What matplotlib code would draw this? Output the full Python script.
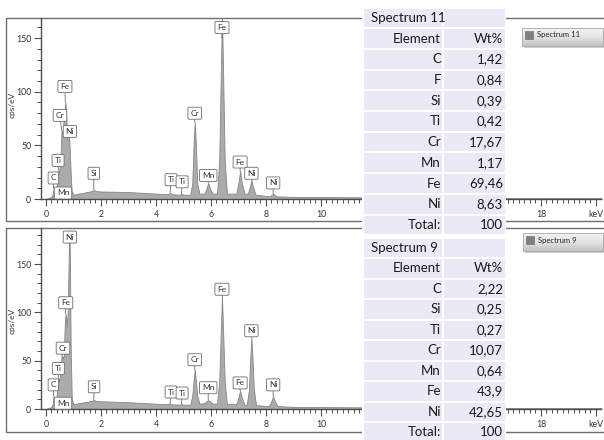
import matplotlib.pyplot as plt
import numpy as np
from matplotlib.patches import Rectangle
from matplotlib.colors import LinearSegmentedColormap

W, H = 604, 440

# ---- spectrum 11 (top) : keV / cps/eV
energy_11 = [0.00, 0.10, 0.20, 0.25, 0.28, 0.31, 0.36, 0.42, 0.45, 0.48, 0.53, 0.57, 0.61, 0.64,
             0.68, 0.71, 0.75, 0.79, 0.85, 0.89, 0.93, 1.00, 1.20, 1.50, 1.68, 1.74, 1.80, 2.00,
             3.00, 4.00, 4.45, 4.51, 4.57, 4.87, 4.93, 4.99, 5.25, 5.32, 5.37, 5.41, 5.45, 5.50,
             5.58, 5.76, 5.84, 5.90, 5.96, 6.06, 6.22, 6.30, 6.36, 6.40, 6.44, 6.50, 6.58, 6.92,
             7.00, 7.06, 7.12, 7.22, 7.34, 7.42, 7.47, 7.52, 7.62, 8.14, 8.26, 8.38, 9.00, 10.0,
             12.0, 15.0, 20.2]
counts_11 = [0, 1, 2, 5, 10, 5, 6, 18, 27, 24, 40, 64, 60, 75,
             85, 90, 70, 55, 55, 30, 8, 4, 5, 6.5, 7.5, 8.5, 7.5, 7,
             6.5, 5, 4.5, 5.8, 4.5, 4, 5.2, 4, 4, 15, 52, 72, 52, 15,
             5, 5, 10, 15, 10, 5, 5, 35, 120, 172, 120, 35, 5, 5,
             15, 26, 15, 5, 5, 12, 18, 12, 4, 2.5, 5, 2.5, 2, 1.8,
             1.5, 1, 0.8]

# ---- spectrum 9 (bottom)
energy_9 = [0.00, 0.10, 0.20, 0.25, 0.28, 0.31, 0.36, 0.42, 0.45, 0.48, 0.53, 0.57, 0.61, 0.65,
            0.68, 0.71, 0.75, 0.79, 0.83, 0.85, 0.87, 0.90, 0.94, 1.00, 1.20, 1.50, 1.68, 1.74,
            1.80, 2.00, 3.00, 4.00, 4.45, 4.51, 4.57, 4.87, 4.93, 4.99, 5.25, 5.32, 5.37, 5.41,
            5.45, 5.50, 5.58, 5.76, 5.84, 5.90, 5.96, 6.06, 6.22, 6.30, 6.36, 6.40, 6.44, 6.50,
            6.58, 6.92, 7.00, 7.06, 7.12, 7.22, 7.30, 7.38, 7.43, 7.47, 7.51, 7.56, 7.64, 8.10,
            8.18, 8.26, 8.34, 8.42, 9.00, 10.0, 12.0, 15.0, 20.2]
counts_9 = [0, 1, 2, 6, 14, 6, 7, 22, 32, 28, 40, 56, 52, 56,
            85, 99, 85, 100, 160, 185, 160, 60, 10, 5, 6, 7.5, 8.5, 9.5,
            8.5, 8, 7, 5.5, 5, 6, 4.8, 4.5, 5.5, 4.5, 4.5, 14, 30, 41,
            30, 14, 5.5, 6, 8, 9, 8, 5.5, 5.5, 28, 82, 117, 82, 28,
            5, 5, 12, 19, 12, 4, 4, 20, 53, 74, 53, 20, 4, 3,
            7, 13, 7, 3, 2.2, 2, 1.6, 1.2, 1]

# ---- peak labels
names_11 = ['C', 'Ti', 'Cr', 'Mn', 'Ni', 'Fe', 'Si', 'Ti', 'Ti', 'Cr', 'Mn', 'Fe', 'Fe', 'Ni', 'Ni']
lab_x_11 = [0.27, 0.44, 0.51, 0.62, 0.87, 0.69, 1.74, 4.55, 4.95, 5.41, 5.90, 6.40, 7.06, 7.47, 8.26]
lab_y_11 = [19.6, 36, 78, 5.6, 63, 105, 24, 18, 16, 80, 22, 160, 34.5, 24, 15]
tip_x_11 = [0.277, 0.45, 0.57, 0.62, 0.85, 0.705, 1.74, 4.51, 4.93, 5.41, 5.90, 6.40, 7.06, 7.47, 8.26]
tip_y_11 = [10, 27, 64, 5.6, 55, 90, 8.5, 5.8, 5.2, 72, 15, 150, 26, 18, 5]

names_9 = ['C', 'Ti', 'Cr', 'Mn', 'Fe', 'Ni', 'Si', 'Ti', 'Ti', 'Cr', 'Mn', 'Fe', 'Fe', 'Ni', 'Ni']
lab_x_9 = [0.27, 0.45, 0.62, 0.62, 0.72, 0.87, 1.75, 4.55, 4.95, 5.41, 5.90, 6.40, 7.06, 7.47, 8.26]
lab_y_9 = [25, 42, 63, 6, 110, 178, 23, 17.6, 16.5, 51, 22, 124, 27, 81, 25]
tip_x_9 = [0.277, 0.45, 0.57, 0.62, 0.705, 0.85, 1.74, 4.51, 4.93, 5.41, 5.90, 6.40, 7.06, 7.47, 8.26]
tip_y_9 = [14, 32, 56, 6, 99, 170, 9.5, 6, 5.5, 41, 9, 117, 19, 74, 13]

# ---- result tables
elements_11 = ['C', 'F', 'Si', 'Ti', 'Cr', 'Mn', 'Fe', 'Ni']
wt_11 = ['1,42', '0,84', '0,39', '0,42', '17,67', '1,17', '69,46', '8,63']
elements_9 = ['C', 'Si', 'Ti', 'Cr', 'Mn', 'Fe', 'Ni']
wt_9 = ['2,22', '0,25', '0,27', '10,07', '0,64', '43,9', '42,65']
total_wt = '100'

# 12-16 keV sit behind the result tables, so they carry no label
x_ticks = [0, 2, 4, 6, 8, 10, 12, 14, 16, 18, 20]
x_tick_labels = ['0', '2', '4', '6', '8', '10', '', '', '', '18', 'keV']
y_ticks = [0, 50, 100, 150]

plt.rcParams['font.family'] = ['Lato', 'DejaVu Sans']


def px_rect(x0, y0, x1, y1):
    return [x0 / W, 1 - y1 / H, (x1 - x0) / W, (y1 - y0) / H]


fig = plt.figure(figsize=(W / 100, H / 100), dpi=100)

# background layer: panel frames
bg = fig.add_axes([0, 0, 1, 1], zorder=0)
bg.set_xlim(0, W)
bg.set_ylim(H, 0)
bg.axis('off')
for (t, b) in [(18, 221), (228, 432)]:
    bg.add_patch(Rectangle((6, t), 620, b - t, fill=False, edgecolor='#6e6e6e', lw=1))


def draw_spectrum(rect, ymax, energy, counts, names, lx, ly, tx, ty, ylab_y):
    ax = fig.add_axes(px_rect(*rect), zorder=1)
    ax.patch.set_alpha(0)
    ax.fill_between(energy, counts, 0, facecolor='#ababab', edgecolor='#858585', lw=0.6)
    ax.set_xlim(-0.18, 20.2)
    ax.set_ylim(0, ymax)
    for s in ['top', 'right']:
        ax.spines[s].set_visible(False)
    for s in ['left', 'bottom']:
        ax.spines[s].set_color('#4d4d4d')
        ax.spines[s].set_linewidth(1)
    ax.set_xticks(x_ticks)
    ax.set_xticklabels(x_tick_labels)
    ax.set_xticks(np.arange(0, 20.2, 0.2), minor=True)
    ax.set_yticks(y_ticks)
    ax.set_yticks(np.arange(0, ymax, 10), minor=True)
    ax.tick_params(which='major', length=5, width=0.8, color='#4d4d4d', labelsize=6.3,
                   labelcolor='#333333', pad=2)
    ax.tick_params(which='minor', length=3, width=0.7, color='#4d4d4d')
    ax.tick_params(axis='x', which='major', pad=3)
    for n, x, y, px_, py_ in zip(names, lx, ly, tx, ty):
        box = dict(boxstyle='round,pad=0.3,rounding_size=0.15', fc='white', ec='#6b6b6b', lw=0.6)
        if x == px_ and y == py_:
            ax.text(x, y, n, fontsize=6, color='#333333', ha='center', va='center', bbox=box,
                    zorder=4)
        else:
            ax.annotate(n, xy=(px_, py_), xytext=(x, y), fontsize=6, color='#333333',
                        ha='center', va='center', bbox=box, annotation_clip=False,
                        arrowprops=dict(arrowstyle='-', color='#6b6b6b', lw=0.6,
                                        shrinkA=0, shrinkB=0), zorder=4)
    fig.text(12 / W, 1 - ylab_y / H, 'cps/eV', rotation=90, fontsize=6, color='#333333',
             ha='center', va='center')
    return ax


draw_spectrum((41, 18, 601.5, 199), 168.8, energy_11, counts_11,
              names_11, lab_x_11, lab_y_11, tip_x_11, tip_y_11, 105)
draw_spectrum((41, 228, 601.5, 409), 187.4, energy_9, counts_9,
              names_9, lab_x_9, lab_y_9, tip_x_9, tip_y_9, 321)

# overlay layer: tables and spectrum buttons
ov = fig.add_axes([0, 0, 1, 1], zorder=5)
ov.patch.set_alpha(0)


def draw_table(top, row_h, title, elements, values):
    rows = [(title, ''), ('Element', 'Wt%')] + list(zip(elements, values)) + [('Total:', total_wt)]
    ov.add_patch(Rectangle((362, top), 144, row_h * len(rows), fc='white', ec='none'))
    for i, (a, b) in enumerate(rows):
        y0 = top + i * row_h
        ov.add_patch(Rectangle((364, y0 + 1), 78, row_h - 2, fc='#e8eaf5', ec='none'))
        ov.add_patch(Rectangle((444, y0 + 1), 61, row_h - 2, fc='#e8eaf5', ec='none'))
        yc = y0 + row_h / 2
        if i == 0:
            ov.text(371, yc, a, fontsize=9.5, color='#1a1a1a', ha='left', va='center')
        else:
            ov.text(441, yc, a, fontsize=9.5, color='#1a1a1a', ha='right', va='center')
        ov.text(503, yc, b, fontsize=9.5, color='#1a1a1a', ha='right', va='center')


grad = LinearSegmentedColormap.from_list('btn', ['#f4f4f4', '#e4e4e4', '#c2c2c2'])


def draw_button(x0, y0, x1, y1, label):
    ov.add_patch(Rectangle((x0 + 2, y0 + 2), x1 - x0, y1 - y0, fc='#9a9a9a', ec='none', alpha=0.5))
    ov.imshow(np.linspace(0, 1, 50).reshape(-1, 1), extent=(x0, x1, y1, y0), aspect='auto',
              cmap=grad, zorder=2)
    ov.add_patch(Rectangle((x0, y0), x1 - x0, y1 - y0, fill=False, ec='#a8a8a8', lw=0.6, zorder=3))
    ov.add_patch(Rectangle((x0 + 3, y0 + 3), 8, 8, fc='#7f7f7f', ec='#666666', lw=0.4, zorder=3))
    ov.text(x0 + 15, y0 + 7, label, fontsize=5.5, color='#222222', ha='left', va='center',
            zorder=4)


draw_table(7.6, 20.7, 'Spectrum 11', elements_11, wt_11)
draw_table(237.7, 20.5, 'Spectrum 9', elements_9, wt_9)
draw_button(522, 28, 603, 46, 'Spectrum 11')
draw_button(523, 233, 603, 251, 'Spectrum 9')

ov.set_xlim(0, W)
ov.set_ylim(H, 0)
ov.axis('off')

fig.savefig('out.png', dpi=100)
